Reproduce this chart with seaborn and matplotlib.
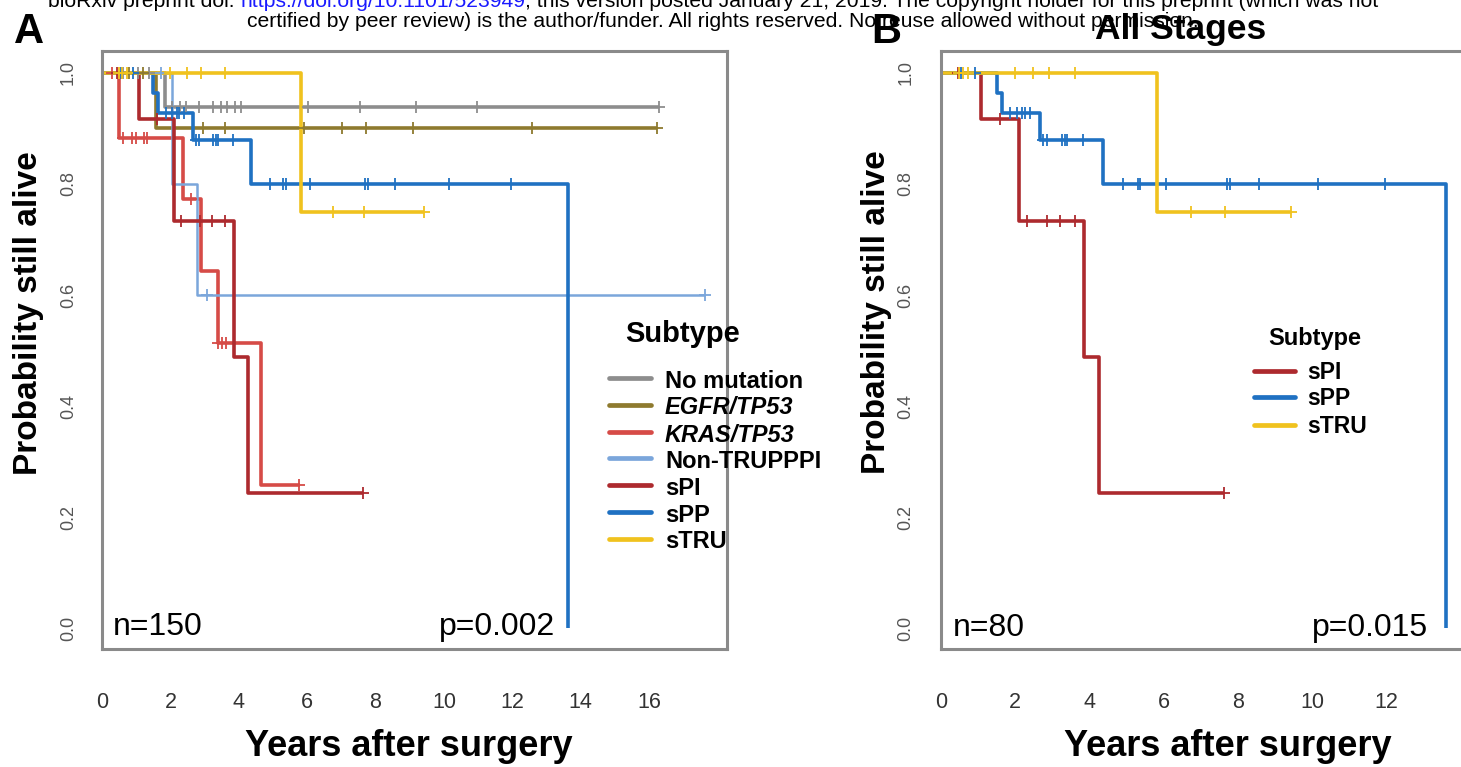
import numpy as np
import matplotlib
matplotlib.use("Agg")
import matplotlib.pyplot as plt
import seaborn as sns
from matplotlib.lines import Line2D

# ------------------------------------------------------------------ data
# Kaplan-Meier step points (time in years, survival probability)
nomut_t = [0, 1.84, 16.30]
nomut_s = [1.0, 0.9375, 0.9375]
nomut_c = [0.62, 1.05, 1.38, 2.06, 2.29, 2.46, 2.85, 3.24, 3.47, 3.66, 3.89, 4.07,
           6.03, 7.55, 9.17, 10.96, 16.30]

egfr_t = [0, 1.58, 16.22]
egfr_s = [1.0, 0.90, 0.90]
egfr_c = [0.78, 1.20, 2.96, 3.60, 5.92, 7.01, 7.71, 9.11, 12.58, 16.22]

kras_t = [0, 0.50, 2.38, 2.90, 3.38, 4.66, 5.80]
kras_s = [1.0, 0.882, 0.773, 0.644, 0.514, 0.258, 0.258]
kras_c = [0.30, 0.62, 0.89, 1.00, 1.22, 1.31, 2.60, 3.40, 3.52, 3.64, 5.76]

nontru_t = [0, 2.04, 2.79, 17.64]
nontru_s = [1.0, 0.80, 0.60, 0.60]
nontru_c = [1.72, 3.07, 17.64]

spi_t = [0, 1.09, 2.10, 3.86, 4.27, 7.63]
spi_s = [1.0, 0.917, 0.733, 0.489, 0.244, 0.244]
spi_c = [0.45, 1.60, 2.31, 2.87, 3.22, 3.61, 7.63]

spp_t = [0, 1.50, 1.65, 2.66, 4.37, 13.62]
spp_s = [1.0, 0.964, 0.927, 0.879, 0.80, 0.0]
spp_c = [0.55, 0.92, 1.86, 2.04, 2.18, 2.26, 2.40, 2.76, 2.85, 3.25, 3.34, 3.39, 3.84,
         4.91, 5.30, 5.37, 6.07, 7.70, 7.79, 8.58, 10.16, 11.97]

stru_t = [0, 5.82, 9.42]
stru_s = [1.0, 0.75, 0.75]
stru_c = [0.49, 0.58, 0.73, 1.99, 2.48, 2.91, 3.61, 6.75, 7.65, 9.42]

subtypes_A = ["No mutation", "EGFR/TP53", "KRAS/TP53", "Non-TRUPPPI", "sPI", "sPP", "sTRU"]
subtypes_B = ["sPI", "sPP", "sTRU"]
italic_labels = ["EGFR/TP53", "KRAS/TP53"]

colors = {
    "No mutation": "#8d8d8d",
    "EGFR/TP53": "#8e7a2e",
    "KRAS/TP53": "#d64b47",
    "Non-TRUPPPI": "#7ba6db",
    "sPI": "#ad2a2e",
    "sPP": "#1f71c2",
    "sTRU": "#f0c21e",
}
curves = {
    "No mutation": (nomut_t, nomut_s, nomut_c),
    "EGFR/TP53": (egfr_t, egfr_s, egfr_c),
    "KRAS/TP53": (kras_t, kras_s, kras_c),
    "Non-TRUPPPI": (nontru_t, nontru_s, nontru_c),
    "sPI": (spi_t, spi_s, spi_c),
    "sPP": (spp_t, spp_s, spp_c),
    "sTRU": (stru_t, stru_s, stru_c),
}
widths = {k: 2.6 for k in curves}
widths["Non-TRUPPPI"] = 1.8

ytick_vals = [0.0, 0.2, 0.4, 0.6, 0.8, 1.0]
ytick_labels = ["0.0", "0.2", "0.4", "0.6", "0.8", "1.0"]
xticks_A = [0, 2, 4, 6, 8, 10, 12, 14, 16]
xticks_B = [0, 2, 4, 6, 8, 10, 12]

n_A, p_A = "n=150", "p=0.002"
n_B, p_B = "n=80", "p=0.015"

header1 = ["bioRxiv preprint doi: ", "https://doi.org/10.1101/523949",
           "; this version posted January 21, 2019. The copyright holder for this preprint (which was not"]
header2 = "certified by peer review) is the author/funder. All rights reserved. No reuse allowed without permission."

# ------------------------------------------------------------------ style
sns.set_style("white")
plt.rcParams["font.family"] = ["Liberation Sans", "DejaVu Sans"]
plt.rcParams["text.color"] = "black"
NARROW = ["Liberation Sans Narrow", "Liberation Sans", "DejaVu Sans"]

W, H = 1461, 767
fig = plt.figure(figsize=(W / 100, H / 100), dpi=100)
fig.patch.set_facecolor("white")


def fx(px):
    return px / W


def fy(py):
    return 1 - py / H


axA = fig.add_axes([fx(102), fy(649), (727 - 102) / W, (649 - 51) / H])
axB = fig.add_axes([fx(941), fy(649), (1515 - 941) / W, (649 - 51) / H])


def step_lookup(t, s, c):
    t = np.asarray(t)
    s = np.asarray(s)
    idx = np.searchsorted(t, np.asarray(c), side="right") - 1
    return s[idx]


def draw_panel(ax, names):
    for name in names:
        t, s, c = curves[name]
        sns.lineplot(x=t, y=s, ax=ax, color=colors[name], linewidth=widths[name],
                     drawstyle="steps-post", estimator=None, sort=False, legend=False,
                     solid_capstyle="butt")
        cy = step_lookup(t, s, c)
        sns.scatterplot(x=c, y=cy, ax=ax, marker="+", s=85, color=colors[name],
                        linewidth=1.3, legend=False, zorder=3)


draw_panel(axA, subtypes_A)
draw_panel(axB, subtypes_B)

for ax, xt, xmax, ylen, ypad in ((axA, xticks_A, 18.28, 13, 5), (axB, xticks_B, 15.47, 8, 11)):
    ax.set_xlim(0, xmax)
    ax.set_ylim(-0.037, 1.039)
    for sp in ax.spines.values():
        sp.set_visible(True)
        sp.set_color("#8a8a8a")
        sp.set_linewidth(2.2)
    ax.set_xticks(xt)
    ax.set_xticklabels([str(v) for v in xt])
    ax.set_yticks(ytick_vals)
    ax.set_yticklabels(ytick_labels, rotation=90, va="center")
    ax.tick_params(axis="x", direction="out", length=11, width=1.5, color="#8a8a8a",
                   pad=20, labelsize=15.5, labelcolor="#333333")
    ax.tick_params(axis="y", direction="out", length=ylen, width=1.5, color="#8a8a8a",
                   pad=ypad, labelsize=13, labelcolor="#555555")
    for lbl in ax.get_xticklabels():
        lbl.set_family(NARROW)
    ax.set_xlabel("")
    ax.set_ylabel("")
    ax.grid(False)

# annotations inside panels
axA.text(0.33, -0.011, n_A, fontsize=23, ha="left", va="baseline", color="black")
axA.text(13.25, -0.011, p_A, fontsize=23, ha="right", va="baseline", color="black")
axB.text(0.32, -0.0145, n_B, fontsize=23, ha="left", va="baseline", color="black")
axB.text(13.13, -0.0145, p_B, fontsize=23, ha="right", va="baseline", color="black")

# axis titles
for cx, cy in ((29, 313), (876, 312)):
    fig.text(fx(cx), fy(cy), "Probability still alive", rotation=90, ha="center",
             va="center", fontsize=24, weight="bold")
for cx in (409, 1228):
    fig.text(fx(cx), fy(746), "Years after surgery", ha="center", va="center",
             fontsize=26, weight="bold")

# panel letters and title
fig.text(fx(14), fy(43), "A", fontsize=30, weight="bold", ha="left", va="baseline")
fig.text(fx(871), fy(43), "B", fontsize=30, weight="bold", ha="left", va="baseline")
fig.text(fx(1095), fy(39), "All Stages", fontsize=25.5, weight="bold", ha="left", va="baseline")


# legends (drawn manually to match the R layout)
def legend(names, title_xy, title_size, x0, x1, xt, ys, size, dy):
    fig.text(fx(title_xy[0]), fy(title_xy[1]), "Subtype", fontsize=title_size,
             weight="bold", ha="left", va="baseline")
    for name, y in zip(names, ys):
        fig.add_artist(Line2D([fx(x0), fx(x1)], [fy(y), fy(y)], color=colors[name],
                              linewidth=3.4, solid_capstyle="round",
                              transform=fig.transFigure))
        fig.text(fx(xt), fy(y + dy), name, fontsize=size, weight="bold",
                 style="italic" if name in italic_labels else "normal",
                 ha="left", va="baseline")


legend(subtypes_A, (625, 342), 21, 609, 651, 665,
       [378, 404.5, 431.5, 458, 485, 511.5, 538.5], 17, 10)
legend(subtypes_B, (1268, 345), 17, 1254, 1295, 1307,
       [370.7, 397.3, 425], 16.5, 8)

# header
renderer = fig.canvas.get_renderer()
probe = fig.text(0, 0, header2, fontsize=14, family=NARROW)
w2 = probe.get_window_extent(renderer=renderer).width
probe.remove()
hsize = 14 * 958 / w2


def place_line(parts, cols, y_px, center_px):
    texts, ws = [], []
    for p, c in zip(parts, cols):
        t = fig.text(0, fy(y_px), p, fontsize=hsize, color=c, family=NARROW,
                     ha="left", va="baseline")
        ws.append(t.get_window_extent(renderer=renderer).width)
        texts.append(t)
    x = center_px - sum(ws) / 2
    for t, w in zip(texts, ws):
        t.set_x(fx(x))
        x += w


place_line(header1, ["black", "#1a1aff", "black"], 7, 713)
place_line([header2], ["black"], 27, 723)

fig.savefig("out.png", dpi=100, facecolor="white")
